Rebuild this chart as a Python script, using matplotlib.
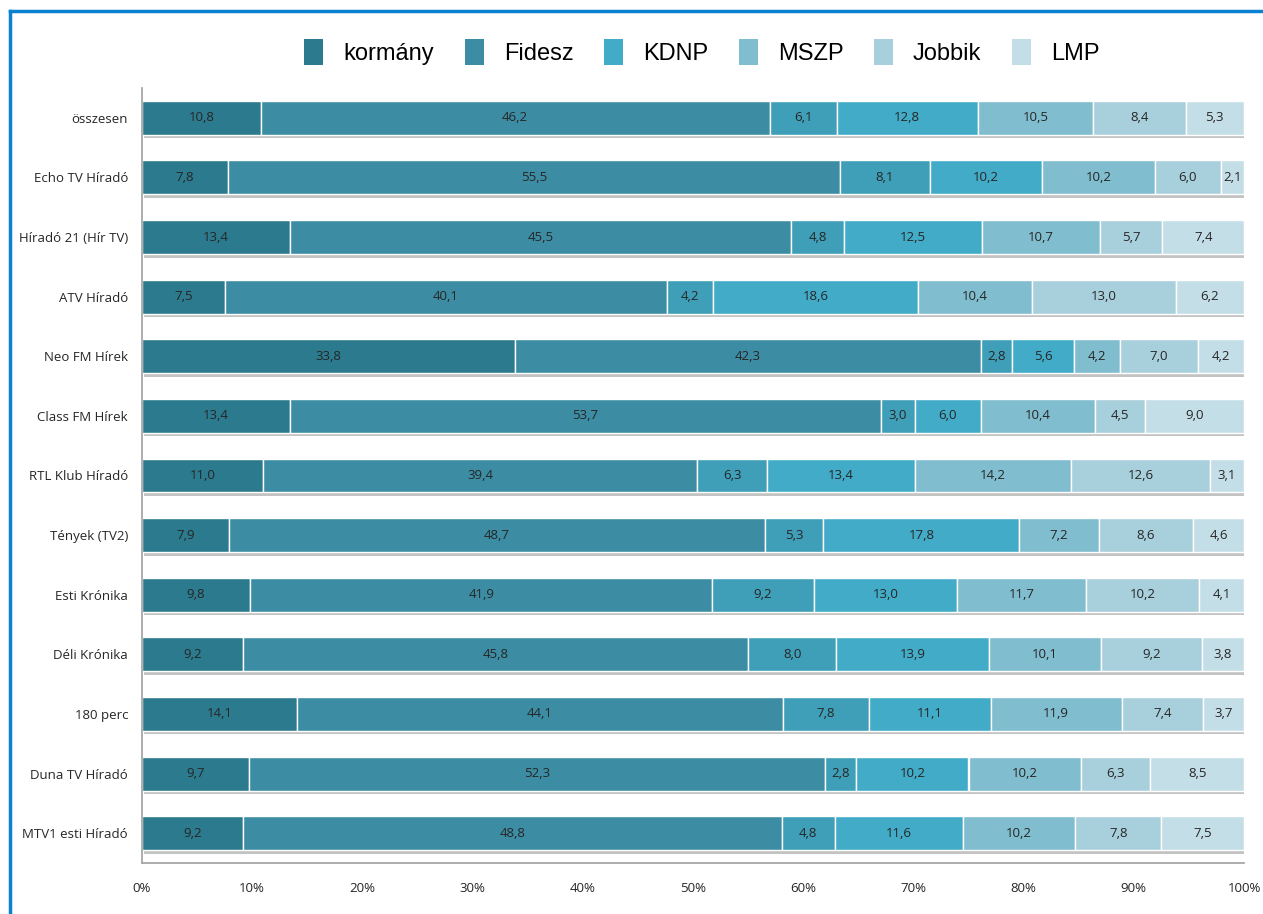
import matplotlib
matplotlib.use("Agg")
import matplotlib.pyplot as plt
import matplotlib.patheffects as pe
from matplotlib.lines import Line2D
from matplotlib.patches import Patch
import numpy as np

categories = ["összesen", "Echo TV Híradó", "Híradó 21 (Hír TV)", "ATV Híradó",
              "Neo FM Hírek", "Class FM Hírek", "RTL Klub Híradó", "Tények (TV2)",
              "Esti Krónika", "Déli Krónika", "180 perc", "Duna TV Híradó",
              "MTV1 esti Híradó"]

s1 = [10.8, 7.8, 13.4, 7.5, 33.8, 13.4, 11.0, 7.9, 9.8, 9.2, 14.1, 9.7, 9.2]
s2 = [46.2, 55.5, 45.5, 40.1, 42.3, 53.7, 39.4, 48.7, 41.9, 45.8, 44.1, 52.3, 48.8]
s3 = [6.1, 8.1, 4.8, 4.2, 2.8, 3.0, 6.3, 5.3, 9.2, 8.0, 7.8, 2.8, 4.8]
s4 = [12.8, 10.2, 12.5, 18.6, 5.6, 6.0, 13.4, 17.8, 13.0, 13.9, 11.1, 10.2, 11.6]
s5 = [10.5, 10.2, 10.7, 10.4, 4.2, 10.4, 14.2, 7.2, 11.7, 10.1, 11.9, 10.2, 10.2]
s6 = [8.4, 6.0, 5.7, 13.0, 7.0, 4.5, 12.6, 8.6, 10.2, 9.2, 7.4, 6.3, 7.8]
s7 = [5.3, 2.1, 7.4, 6.2, 4.2, 9.0, 3.1, 4.6, 4.1, 3.8, 3.7, 8.5, 7.5]

series = [s1, s2, s3, s4, s5, s6, s7]
legend_labels = ["kormány", "Fidesz", "KDNP", "MSZP", "Jobbik", "LMP"]
legend_series_idx = [0, 1, 3, 4, 5, 6]
colors = ["#2b7a8d", "#3c8da4", "#3f9fb8", "#42abc8", "#80bdcf", "#a8cfdc", "#c4dee7"]
xticks = [0, 10, 20, 30, 40, 50, 60, 70, 80, 90, 100]

W, H = 1263, 914
fig = plt.figure(figsize=(W / 100, H / 100), dpi=100)
ax = fig.add_axes([142 / W, 1 - 863 / H, (1244 - 142) / W, (863 - 88) / H])

data = np.array(series, dtype=float)
tot = data.sum(axis=0)
pct = data / tot * 100
y = np.arange(len(categories))
left = np.zeros(len(categories))
shadow = [pe.SimplePatchShadow(offset=(1.5, -2.5), shadow_rgbFace="#7a7a7a", alpha=0.45), pe.Normal()]
for i, (vals, p) in enumerate(zip(data, pct)):
    bars = ax.barh(y, p, left=left, height=0.57, color=colors[i],
                   edgecolor="white", linewidth=1.0, zorder=2)
    for b in bars:
        b.set_path_effects(shadow)
    for j in range(len(categories)):
        ax.text(left[j] + p[j] / 2, y[j], f"{vals[j]:.1f}".replace(".", ","),
                ha="center", va="center", fontsize=9.5, color="#262626",
                family="Open Sans", zorder=3)
    left += p

ax.set_ylim(len(categories) - 0.5, -0.5)
ax.set_xlim(0, 100)
ax.set_yticks(y)
ax.set_yticklabels(categories, fontsize=9.5, family="Open Sans", color="#262626")
ax.set_xticks(xticks)
ax.set_xticklabels([f"{t}%" for t in xticks], fontsize=9.5, family="Open Sans", color="#262626")
ax.tick_params(length=0, pad=10)
ax.tick_params(axis="x", pad=14)
for s in ["top", "right"]:
    ax.spines[s].set_visible(False)
for s in ["left", "bottom"]:
    ax.spines[s].set_color("#a0a0a0")
    ax.spines[s].set_linewidth(1.2)

handles = [Patch(facecolor=colors[k], edgecolor="none") for k in legend_series_idx]
fig.legend(handles, legend_labels, loc="center", bbox_to_anchor=(702 / W, 1 - 52 / H),
           ncol=6, frameon=False, handlelength=0.8, handleheight=1.35,
           columnspacing=1.3, handletextpad=0.85,
           prop={"family": "Liberation Sans", "size": 17})

# blue frame (left and top)
fig.add_artist(Line2D([10 / W, 10 / W], [0, 1 - 11 / H], color="#0a80d0", linewidth=2.5,
                      transform=fig.transFigure))
fig.add_artist(Line2D([10 / W, 1], [1 - 11 / H, 1 - 11 / H], color="#0a80d0", linewidth=2.5,
                      transform=fig.transFigure))

fig.savefig("out.png", dpi=100)
